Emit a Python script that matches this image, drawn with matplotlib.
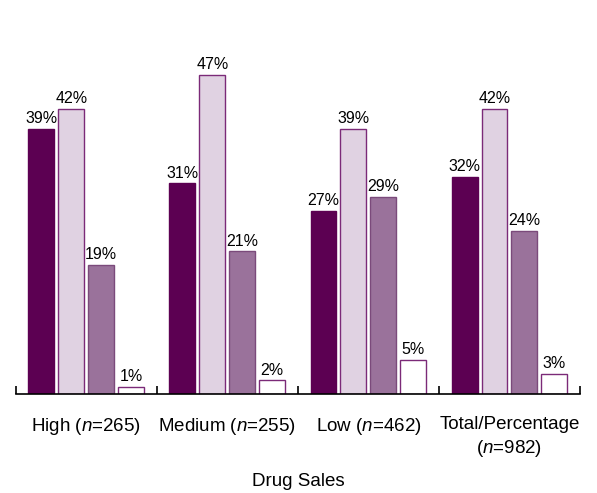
import matplotlib
matplotlib.use("Agg")
import matplotlib.pyplot as plt
import numpy as np

plt.rcParams['font.family'] = ['Liberation Sans', 'DejaVu Sans']
plt.rcParams['mathtext.fontset'] = 'custom'
plt.rcParams['mathtext.rm'] = 'Liberation Sans'
plt.rcParams['mathtext.it'] = 'Liberation Sans:italic'

groups = ["High ($n$=265)", "Medium ($n$=255)", "Low ($n$=462)", "Total/Percentage\n($n$=982)"]
series_a = [39, 31, 27, 32]
series_b = [42, 47, 39, 42]
series_c = [19, 21, 29, 24]
series_d = [1, 2, 5, 3]
xlabel = "Drug Sales"

series = [series_a, series_b, series_c, series_d]
faces = ["#5c0052", "#e0d2e2", "#9a729b", "#ffffff"]
edges = ["#5c0052", "#7b2a78", "#7b4a7b", "#7b2a78"]

fig = plt.figure(figsize=(5.97, 4.93), dpi=100)
ax = fig.add_axes([0.0263, 0.2008, 0.9452, 0.6887])

x = np.arange(len(groups))
width = 0.184
step = 0.212
offsets = (np.arange(4) - 1.5) * step
for vals, off, fc, ec in zip(series, offsets, faces, edges):
    bars = ax.bar(x + off, vals, width=width, color=fc, edgecolor=ec, linewidth=1.0)
    for b, v in zip(bars, vals):
        ax.annotate(f"{v}%", (b.get_x() + b.get_width() / 2, v),
                    xytext=(0, 2), textcoords="offset points",
                    ha="center", va="bottom", fontsize=11.5)

ax.set_xlim(-0.5, len(groups) - 0.5)
ax.set_ylim(0, 50)
for s in ["top", "right", "left"]:
    ax.spines[s].set_visible(False)
ax.spines["bottom"].set_linewidth(1.2)
ax.set_yticks([])
ax.set_xticks(x)
ax.set_xticklabels(groups, fontsize=13.5, linespacing=1.35)
ax.tick_params(axis="x", which="major", length=0, pad=16)
ax.set_xticks(np.arange(len(groups) + 1) - 0.5, minor=True)
ax.tick_params(axis="x", which="minor", direction="in", length=6, width=1.2)
ax.set_xlabel(xlabel, fontsize=13.5, labelpad=10)

fig.savefig("out.png", dpi=100)
